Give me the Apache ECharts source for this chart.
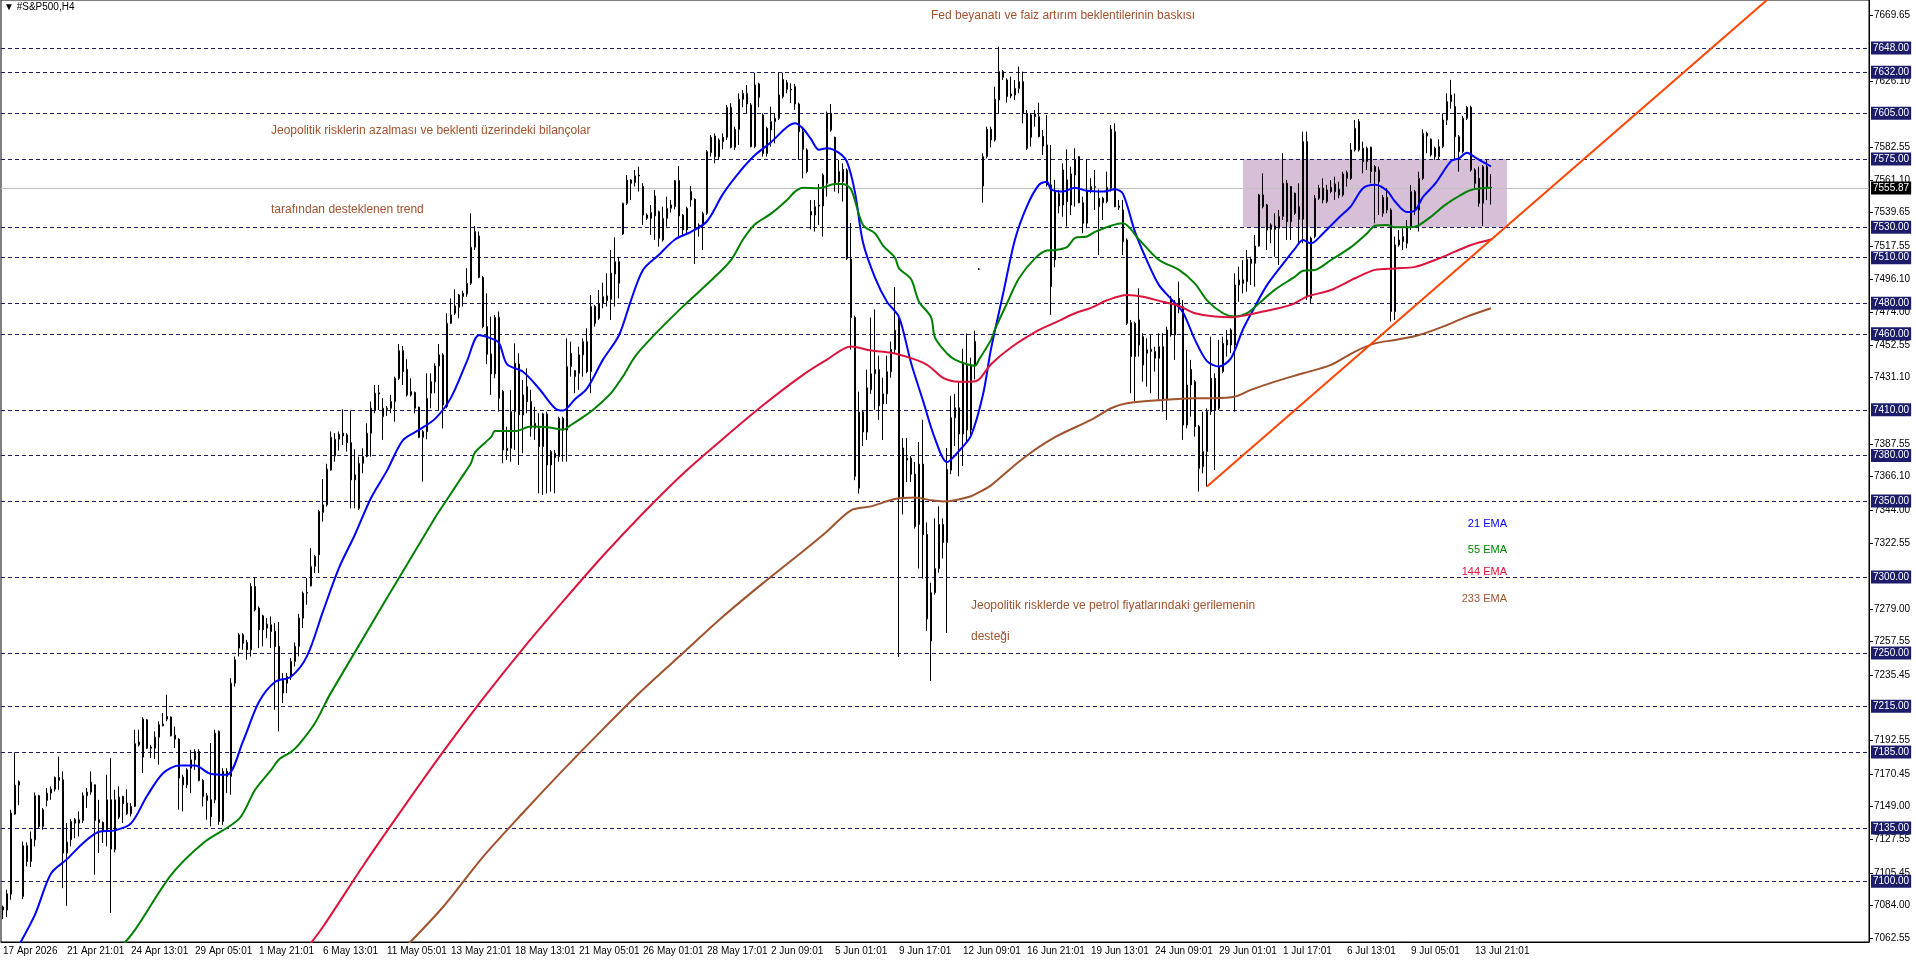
<!DOCTYPE html>
<html>
<head>
<meta charset="utf-8">
<title>#S&amp;P500,H4</title>
<script src="https://cdn.jsdelivr.net/npm/echarts@6/dist/echarts.min.js"></script>
<style>
  html, body { margin: 0; padding: 0; background: #fff; }
  #chart { width: 1916px; height: 963px; }
</style>
</head>
<body>
<div id="chart"></div>
<script>
// time labels under the x axis, one every 16 bars
const timeLabels = ['17 Apr 2026', '21 Apr 21:01', '24 Apr 13:01', '29 Apr 05:01', '1 May 21:01', '6 May 13:01',
  '11 May 05:01', '13 May 21:01', '18 May 13:01', '21 May 05:01', '26 May 01:01', '28 May 17:01', '2 Jun 09:01',
  '5 Jun 01:01', '9 Jun 17:01', '12 Jun 09:01', '16 Jun 21:01', '19 Jun 13:01', '24 Jun 09:01', '29 Jun 01:01',
  '1 Jul 17:01', '6 Jul 13:01', '9 Jul 05:01', '13 Jul 21:01'];
const labelStep = 16;
const slotCount = 467; // bars + empty space on the right (chart shift)

// price scale labels on the right
const priceTicks = [7669.65, 7626.10, 7582.55, 7561.10, 7539.65, 7517.55, 7496.10, 7474.00, 7452.55, 7431.10,
  7387.55, 7366.10, 7344.00, 7322.55, 7279.00, 7257.55, 7235.45, 7192.55, 7170.45, 7149.00, 7127.55, 7105.45,
  7084.00, 7062.55];

// horizontal levels
const levels = [7648, 7632, 7605, 7575, 7530, 7510, 7480, 7460, 7410, 7380, 7350, 7300, 7250, 7215, 7185, 7135, 7100];
const lastPrice = 7555.87;

// H4 candles
const opens = [
  7083,7081,7091.5,7144.1,7163.2,7090,7123.3,7113,7127.2,7156.2,
  7136,7153.1,7157.9,7160.5,7168.2,7166.7,7118.5,7127.2,7140.4,7138.2,
  7139.9,7156.2,7158.6,7163.4,7140.4,7138.6,7133.8,7153.5,7120.7,7142.1,
  7155.7,7151.3,7144.3,7149.2,7189.7,7181.6,7206.1,7188.2,7187.5,7194.7,
  7202.2,7206.6,7207.9,7196,7193.4,7168.4,7163.4,7174.3,7179.8,7185.3,
  7166.2,7156.2,7153.5,7153.5,7198.5,7139.3,7172.2,7168.9,7230.2,7253.3,
  7262,7257,7252.2,7293.8,7279.6,7274.5,7266.4,7268.6,7264.2,7254.4,
  7232.4,7230.2,7234.6,7244.5,7254.4,7273,7289.4,7294.2,7307,7314.6,
  7342.5,7347.5,7370.4,7379.7,7390.6,7394.6,7393.5,7388.4,7363.9,7345.2,
  7374.8,7379.2,7394.6,7409.9,7420.4,7405.5,7410.3,7411,7415.4,7430.7,
  7448.9,7436.6,7419.8,7421.3,7411.7,7391.9,7395.7,7420.9,7428.5,7438.8,
  7446.1,7412.1,7466.9,7473.5,7477.4,7484.4,7486.2,7493.2,7516.9,7524.3,
  7497.1,7464.7,7446.7,7433.6,7470.8,7422,7383.2,7384.7,7408.8,7440.1,
  7406.6,7425.2,7415.4,7397.9,7397.8,7385.8,7407.3,7373.7,7381.4,7379.2,
  7404.4,7396.7,7438.4,7431.8,7434,7446.1,7454.8,7435.1,7477.9,7470.2,
  7480,7481.8,7482.7,7499.3,7507.4,7525.6,7545.8,7561.1,7559.4,7563.8,
  7556.8,7538.1,7535.9,7537.5,7540.3,7521.7,7535.9,7542.5,7543.6,7560.7,
  7538.1,7528.3,7553.5,7548.4,7529.4,7531.5,7539.2,7579.1,7590,7587.4,
  7586.3,7589.2,7608.9,7582.6,7594.4,7614.2,7611.1,7610.5,7583.1,7624.3,
  7603.9,7595.1,7594,7599.5,7601.7,7615.9,7625.1,7620.8,7622.5,7611.1,
  7592.9,7580.9,7540.3,7538.1,7544,7544,7558.9,7605,7589.2,7566.6,
  7560,7567.7,7509.1,7470.7,7358.4,7408.6,7395.4,7423.2,7433.7,7436.4,
  7413.9,7420.5,7435,7449.6,7470.7,7351.8,7376.9,7378.2,7367.6,7334.6,
  7374.3,7328,7258,7289.7,7305.6,7334.6,7322.7,7370.3,7404.7,7411.3,
  7394.1,7439,7396.7,7439,7502.5,7557.2,7576.5,7594.5,7587.5,7613.8,
  7632.4,7626.9,7616.4,7617,7621.4,7625.8,7605,7589.2,7604.6,7602.8,
  7589.7,7584.2,7557.9,7508.6,7552,7544.7,7561.2,7544.7,7564.4,7576.5,
  7546.2,7532.7,7554.6,7556.3,7543.6,7549.1,7546.9,7555.7,7592.9,7544,
  7541.4,7521.7,7445,7466.9,7469.1,7458.1,7447.2,7448.3,7448.3,7443.9,
  7451.5,7416.5,7459.2,7459.2,7483.3,7477.8,7400,7426.3,7428.5,7398.9,
  7372.6,7382.5,7408.8,7430.7,7411,7435.1,7452.6,7452.6,7452.6,7492.1,
  7495.4,7494.3,7509,7506.3,7517.7,7551.3,7544.7,7531.5,7530.9,7529.4,
  7537.1,7559,7533.7,7552.4,7543.6,7535.3,7586.4,7522.8,7523.9,7549.1,
  7555.7,7546.9,7556.3,7558.5,7555,7551.3,7562.2,7562.2,7580.9,7599.5,
  7582,7573.2,7582.6,7569.9,7567.7,7539.2,7549.7,7541.4,7518.4,7518.4,
  7520.6,7519.5,7530.5,7541.4,7541.4,7562.2,7591.8,7587.9,7582,7576.5,
  7583.1,7600.6,7612.7,7609.4,7589.6,7579.8,7601.7,7608.9,7567.7,7562.2,
  7545.8,7569.9,7556.3
];
const highs = [
  7084,7094.4,7147,7184.7,7166.3,7126.1,7125.5,7132.7,7158.4,7156.8,
  7148.1,7161.2,7162.3,7168.9,7182,7172.2,7138.2,7140.8,7141.5,7145.9,
  7158.4,7161.2,7172.2,7163.4,7153.5,7139.3,7170,7180.9,7160.1,7162.3,
  7156.2,7160.5,7151.3,7199.6,7199.6,7207.9,7206.6,7189.7,7198.5,7205.1,
  7210.5,7222.6,7208.3,7201.7,7194,7170,7174.3,7186.4,7186.8,7186.8,
  7167.1,7157.9,7190.8,7199.6,7199.1,7174.3,7174.3,7233.5,7247.8,7263.1,
  7263.1,7258.7,7296,7300,7280.7,7275.2,7273,7274.1,7269.7,7270.4,
  7236.8,7236.8,7246.7,7257,7275.8,7290.5,7299.3,7319,7314.6,7344.2,
  7364.4,7374.5,7395.7,7394.6,7395.7,7410.3,7394.6,7409.5,7384,7379.2,
  7384.7,7401.1,7415.4,7426.3,7426.3,7417.6,7412.5,7419.8,7431.8,7453.3,
  7452,7443.2,7430.7,7422,7412.1,7396.8,7434,7434,7440.6,7453.3,
  7447.2,7473.5,7483.3,7489.3,7486.2,7488.4,7503.1,7539.2,7530.9,7527.2,
  7498,7486.6,7471.3,7472.4,7474.6,7423.1,7398.9,7423.1,7453.7,7447.2,
  7429.6,7437.3,7423.1,7412,7407.7,7408.1,7408.8,7383.6,7383.6,7405.5,
  7405.5,7457,7454.8,7436.2,7451.5,7457,7463.6,7485.5,7479,7488.8,
  7493.6,7499.8,7515.1,7523.4,7510.3,7546.2,7564.4,7561.6,7567.7,7569.9,
  7559,7539.2,7544.7,7554.6,7541,7543.6,7550.2,7548,7561.1,7570.3,
  7538.8,7543.6,7557.2,7549.1,7532.6,7540.3,7580.9,7590.7,7591.8,7588.5,
  7591.8,7610.5,7611.6,7596.2,7618.1,7620.3,7623.6,7611.6,7631.7,7625.1,
  7605,7596.2,7609.4,7605,7631.7,7631.7,7626.9,7624.7,7624.3,7612,
  7596.2,7582,7548,7548,7558.5,7565.5,7606.1,7611.1,7589.6,7574.3,
  7572.1,7568.8,7532.9,7472,7421.9,7409.9,7436.4,7470.7,7476,7445.6,
  7431.1,7445.6,7454.9,7490.6,7472,7391.4,7391.4,7379.6,7375.6,7388.8,
  7403.4,7335.9,7296.3,7338.6,7346.5,7338.6,7384.9,7419.2,7420.5,7428.4,
  7450.1,7460.2,7444.3,7462,7503,7578.7,7596.2,7596.2,7622.5,7648.8,
  7633.5,7628,7629.1,7626.9,7635.7,7632.4,7607.2,7605,7607.2,7612,
  7594,7603.9,7584.2,7561.2,7554.6,7572.1,7581.3,7569.9,7582,7576.9,
  7550.2,7574.7,7562.3,7567.7,7555,7550.2,7566.6,7597.3,7598.4,7548,
  7548,7522.8,7469.1,7468,7489.9,7460.3,7457,7459.2,7451.5,7460.3,
  7460.3,7464.7,7484.9,7482.2,7494.3,7482.2,7449.4,7442.8,7429.6,7400,
  7408.8,7411,7458.1,7434,7456,7458.1,7462.5,7463.6,7499.8,7504.1,
  7508.5,7515.1,7510.7,7525,7551.9,7565.5,7545.4,7532.6,7539.2,7541.4,
  7578.7,7561.1,7557.2,7552.8,7558.9,7592.9,7592.9,7523.9,7551.3,7557.9,
  7562.2,7557.9,7561.1,7563.3,7560,7566.6,7567.3,7585.3,7600.6,7601.1,
  7586.4,7583.1,7583.1,7571,7569.9,7551.3,7555.7,7542.5,7523.9,7528.2,
  7529.4,7534.8,7557.9,7554.6,7566.6,7594.5,7592.9,7588.5,7583.1,7587.9,
  7605,7618.1,7627,7618,7590.7,7603.2,7609.8,7610,7568.8,7569.9,
  7571,7574.3,7565
];
const lows = [
  7075,7076.4,7087.8,7143.7,7150,7088.2,7109.7,7109.3,7122.9,7134.9,
  7133.8,7149.2,7153.5,7159,7160.1,7095.4,7083.8,7122.9,7128.3,7129.4,
  7138.2,7148.1,7156.8,7104.2,7118.5,7125.1,7122.9,7079,7118.9,7140.8,
  7138.2,7143.7,7142.6,7148.7,7188.6,7171.1,7186.9,7181,7180.3,7176.6,
  7201.8,7205.1,7195.2,7187.5,7147,7145.9,7161.2,7157.9,7173.2,7165.6,
  7149.1,7140.4,7136,7151.3,7137.1,7137.1,7157.9,7156.8,7228,7247.8,
  7252.2,7245.6,7247.8,7277.4,7253.3,7254.4,7259.8,7253.3,7212.7,7198.5,
  7217.1,7223.7,7232.4,7241.2,7247.8,7266.4,7281.7,7293.8,7302.6,7302.6,
  7336.5,7346.4,7370,7375.9,7383.2,7386.9,7382.5,7345.2,7345.2,7344.1,
  7368.3,7378.8,7379.2,7407.7,7409.9,7390.2,7406,7407.7,7402.2,7429.6,
  7426.3,7418.7,7418.7,7407.7,7391.3,7362.8,7390.6,7411,7420.9,7409.9,
  7397.8,7411,7466.5,7472.4,7470.2,7477.9,7484.4,7492.1,7515.1,7496.5,
  7463.6,7440,7419.8,7430.7,7408.8,7374.8,7377,7375.9,7383.6,7373.7,
  7381.4,7407.7,7392.4,7390.2,7355.1,7354,7355.1,7356.2,7355.1,7375.9,
  7375.9,7375.9,7431.8,7420.9,7423.1,7431.8,7434,7420.9,7464.7,7469.1,
  7476.8,7477.9,7469.1,7477.9,7483.3,7525,7544.7,7548,7556.8,7553.5,
  7531.6,7534.8,7525,7521.7,7517.3,7520.6,7530.5,7539.6,7541.8,7523.9,
  7525,7526.1,7543.6,7505.9,7523.9,7515.1,7538.1,7576.5,7572.1,7574.3,
  7581.3,7587.4,7581.9,7580.9,7584.2,7609,7605,7582.6,7582,7609,
  7576.5,7576.5,7583,7585.2,7600.6,7614.8,7618.1,7611.6,7607.2,7574.3,
  7562.2,7565.5,7528.7,7527.2,7531.5,7523.9,7550.2,7592.9,7553.5,7552.4,
  7546.9,7508.5,7449.6,7363.7,7355,7386.2,7390.1,7420.5,7410,7403.4,
  7390.1,7413.9,7431.1,7447,7247.4,7341.2,7362.4,7362.4,7331.9,7305.6,
  7299,7264.6,7231.6,7288.4,7302.9,7312.2,7263.3,7367.6,7386.2,7366.3,
  7373,7388.8,7392.8,7430,7502,7546.2,7575.4,7582.6,7586.4,7605,
  7626.9,7612,7614.9,7613.8,7618.2,7598.4,7580.9,7583.1,7596.2,7589.2,
  7577.6,7556.8,7472.4,7503.7,7539.2,7537,7530.5,7538.1,7543.6,7545.8,
  7526.1,7529.4,7552.4,7541.4,7511.8,7534.9,7545.8,7553.5,7543.2,7541.4,
  7511.8,7465.8,7420.9,7415.4,7445,7428.5,7425.2,7420.9,7435.1,7416.5,
  7408.8,7403.3,7458.1,7442.8,7473.5,7390.2,7397.8,7405.5,7392.4,7356.2,
  7368.2,7359.5,7406.6,7370.4,7409.9,7434,7445,7447.2,7408.8,7481.1,
  7486.6,7487.7,7492.1,7491,7517.3,7542.5,7515.1,7519.5,7510.7,7505.2,
  7534.8,7521.7,7521.7,7538.1,7519.5,7519.5,7482.2,7480,7522.8,7548,
  7545.8,7545.8,7552.4,7548,7549.1,7550.2,7556.8,7561.1,7579.8,7579.8,
  7565.5,7567.7,7558.9,7532.6,7538.1,7537,7539.2,7468,7469.1,7517.3,
  7515.1,7516.2,7528.2,7538.1,7527.2,7561.1,7578.7,7576.5,7574.3,7574.3,
  7582,7597.3,7608,7574.3,7566.6,7578.7,7600.6,7566.6,7555.7,7543.6,
  7530.9,7548,7545
];
const closes = [
  7081,7091.7,7144.8,7163.2,7165.4,7123.3,7113,7127.7,7156.2,7136,
  7147,7157.9,7160.5,7168.2,7166.3,7118.5,7125.7,7139.3,7138.2,7140.4,
  7156.2,7158.6,7165.2,7139.9,7138.6,7133.4,7153.5,7121.1,7153.5,7155.3,
  7150.9,7144.3,7149.2,7190.4,7191.5,7206.6,7187.5,7187.5,7194.7,7202.9,
  7203.3,7208.3,7195.6,7193.4,7167.8,7163.4,7173.2,7179.8,7185.3,7166.2,
  7155.7,7153.1,7142.5,7197.3,7139.3,7172.2,7168.9,7230.2,7245.6,7262,
  7256.5,7252.2,7293.8,7278.5,7265.3,7265.3,7269,7264.2,7254.4,7232.4,
  7223.7,7234.6,7244.5,7254.4,7273,7289.4,7289.9,7307,7313.5,7343.1,
  7347.5,7371,7391.9,7390.6,7393.9,7392.8,7388.4,7363.9,7367.2,7374.8,
  7379.2,7394.6,7411,7420.9,7421.3,7411,7411,7415.4,7430.7,7448.9,
  7435.1,7419.8,7422,7411,7391.9,7395.7,7417.6,7428.5,7438.8,7446.1,
  7413.2,7466.9,7472.4,7478.3,7485.5,7486.6,7493.2,7516.9,7527.2,7497.1,
  7464.7,7446.5,7433.6,7470.8,7417.6,7383.6,7384.7,7408.8,7440.6,7406.6,
  7419.8,7415.4,7397.9,7401.1,7385.8,7407.3,7373.7,7382.5,7378.6,7404.4,
  7396.7,7438.4,7447.2,7435.8,7446.1,7454.8,7435.1,7477.9,7466.9,7480,
  7484.4,7484.9,7499.8,7507.4,7493.2,7545.8,7561.1,7559,7563.8,7564.4,
  7538.1,7536,7539.7,7550.6,7522.8,7535.9,7542.5,7544.7,7560.7,7537.5,
  7528.3,7542.5,7548,7528.3,7531.5,7539.2,7579.8,7589.2,7576.5,7576.5,
  7589.2,7608.9,7582.6,7594.4,7614.2,7618.1,7618.1,7583.1,7623.6,7615.5,
  7578.6,7578.6,7599.5,7601.7,7617,7627.3,7620.8,7620.3,7611.1,7592.9,
  7581.3,7566.6,7538.1,7543.6,7544.7,7564.4,7605,7594,7558.9,7560,
  7568.1,7509.6,7470.7,7366.3,7408.6,7395.4,7424.5,7433.7,7436.4,7412.6,
  7420.5,7435,7449.6,7462.3,7351.8,7384.9,7378.2,7367.6,7333.3,7374.3,
  7328,7272.5,7289.7,7305.6,7334.6,7322.7,7370.8,7404.7,7411.3,7394.1,
  7440.3,7396.7,7439,7455,7502.5,7576.5,7594.5,7587.5,7614.2,7632.4,
  7628.7,7616,7617.7,7621.4,7625.8,7605,7582,7603.9,7602.8,7589.7,
  7583.5,7557.9,7491,7553.5,7544.1,7567.7,7546.9,7565.1,7574.7,7546.2,
  7532.7,7554.1,7556.8,7556.8,7549.1,7546.2,7556.3,7594.5,7543.6,7543.2,
  7520.6,7466.9,7467.3,7445,7452.6,7439.5,7449.4,7449.8,7443.9,7451.5,
  7416.5,7462.5,7482.2,7480,7477.8,7400,7426.3,7436.6,7398.9,7371.5,
  7382.5,7408.8,7430.7,7409.9,7438.4,7453.7,7455.9,7462.5,7492.1,7495.4,
  7493.2,7509,7506.3,7517.7,7551.3,7543.6,7528.2,7528.7,7528.7,7537.1,
  7559,7533.7,7556.8,7539.2,7535.3,7586.4,7484.4,7483.3,7549.1,7555.7,
  7548,7554.6,7553.5,7553.5,7551.3,7565.1,7566,7580.9,7595.1,7580.9,
  7573.2,7582,7566.6,7566.6,7560.1,7549.7,7541.4,7474.6,7474.6,7521.7,
  7523.9,7530.5,7553.5,7553.5,7562.2,7591.8,7590.1,7577.6,7576.5,7583.1,
  7600.6,7612.7,7617,7589.6,7579.8,7601.7,7608.9,7567.7,7558.9,7545.8,
  7569.9,7556.3,7555.87
];

// moving averages as [bar index, price]
const ema21 = [[4,7058],[8,7078],[12,7105],[16,7114.5],[20,7125],[24,7132.5],[28,7133.4],[32,7138],[36,7156],
  [40,7171],[44,7176],[48,7176],[52,7170.5],[56,7170],[60,7192],[64,7218],[68,7231],[72,7234.5],[76,7248],
  [80,7277.4],[84,7306],[88,7328],[92,7352],[96,7370],[100,7390],[104,7396.8],[108,7404],[112,7418],[116,7442],
  [119,7459],[122,7457],[124,7454],[126,7440],[130,7435],[134,7424],[138,7411],[140,7409.5],[143,7417],
  [146,7424],[150,7443],[154,7459],[157,7482],[160,7502],[164,7512],[168,7522],[172,7527],[176,7534],
  [180,7552],[184,7566],[188,7577.5],[192,7586],[196,7596],[198,7598.5],[200,7595],[202,7588],[204,7581],
  [206,7582],[209,7579],[211,7573],[213,7553],[215,7520],[218,7497],[221,7481],[224,7471],[227,7441],
  [230,7416],[233,7391],[236,7375.6],[239,7383],[242,7393],[245,7420],[247,7450],[250,7486],[253,7522],
  [256,7544],[259,7558],[261,7560],[262,7555],[265,7553.5],[268,7556],[271,7554],[275,7553.5],[278,7555],
  [280,7552],[283,7527],[286,7508],[289,7492],[292,7483],[295,7474],[298,7456],[301,7442],[304,7438.5],
  [307,7444],[310,7463],[313,7478],[316,7492],[320,7506],[323,7516],[325,7521.7],[327,7519.5],[330,7526],
  [334,7536.5],[337,7544],[340,7555.7],[343,7558],[346,7554],[348,7547],[351,7540],[353,7541],[355,7550],
  [358,7558.5],[362,7573.5],[364,7575.4],[366,7579],[368,7576],[372,7570]];
const ema55 = [[28,7052],[33,7068],[42,7104],[50,7125],[59,7141],[63,7160],[67,7173],[69,7180],[72,7185],
  [74,7190],[78,7204],[82,7224],[108,7339],[111,7351],[114,7363],[117,7375],[118,7382],[122,7392],[123,7396],
  [128,7396],[132,7399],[136,7398.5],[140,7397],[142,7400],[146,7407],[148,7411],[152,7421],[155,7432],
  [158,7445],[162,7457],[170,7478],[177,7495],[182,7508.5],[185,7522],[188,7532],[192,7539],[196,7548],
  [198,7553.5],[200,7556],[204,7555.7],[208,7558.5],[210,7558.5],[212,7555],[215,7531.5],[218,7526],
  [220,7518],[223,7510],[224,7503],[227,7496],[229,7481],[232,7471],[233,7457.5],[236,7447],[238,7443],
  [241,7440],[243,7439],[244,7443],[247,7456],[248,7463],[251,7480],[254,7496.5],[258,7509.6],[261,7514.7],
  [263,7515],[266,7517],[268,7523],[271,7524],[273,7527],[277,7531],[280,7532.6],[284,7522],[289,7508.5],
  [294,7502],[298,7493],[301,7482],[305,7473.5],[308,7471.3],[311,7473.5],[314,7480],[318,7489],[323,7497.6],
  [325,7501.5],[328,7502],[332,7508.5],[337,7517],[341,7526],[343,7531],[346,7531.5],[348,7530],[352,7530],
  [354,7531.5],[357,7537],[360,7543.6],[363,7549],[367,7554.6],[372,7556]];
const ema144 = [[76,7056],[80,7070],[90,7110],[100,7148],[110,7185],[120,7220],[130,7253],[140,7284],[150,7314],
  [160,7342],[170,7368],[180,7391],[190,7413],[200,7433],[206,7443],[212,7451.7],[217,7449],[222,7447.5],
  [227,7444],[230,7441],[232,7437.7],[235,7431],[239,7428.5],[242,7428.5],[244,7430],[247,7440],[252,7451],
  [259,7462.5],[263,7467.3],[268,7473.5],[272,7477],[276,7482],[281,7485.5],[285,7484.4],[290,7481],
  [294,7478.3],[298,7473.5],[303,7471.3],[307,7470.8],[311,7472.4],[315,7474.6],[322,7479],[326,7484.4],
  [332,7488.8],[338,7496.5],[343,7502],[348,7503],[353,7504],[358,7508.5],[363,7514],[367,7518.4],[372,7522]];
const ema233 = [[100,7055],[110,7083],[120,7116],[130,7145],[140,7173],[150,7200],[160,7226],[170,7250],
  [180,7274],[190,7296],[200,7317],[206,7330],[212,7343.9],[217,7346.5],[223,7351.3],[228,7352.3],[232,7350.5],
  [235,7349.7],[238,7350.5],[242,7353.1],[244,7355.8],[247,7360.3],[255,7378],[263,7392],[272,7403.3],
  [277,7411],[281,7414.3],[290,7416.5],[298,7417.6],[303,7417.6],[308,7418.7],[312,7423.1],[318,7428.5],
  [325,7434],[332,7439.5],[338,7448.3],[343,7453.7],[348,7455.9],[354,7459.2],[360,7464.7],[366,7471.3],
  [372,7476.8]];

// drawn objects: trend line ends and the box, as [bar index, price]
const trendLine = [[301, 7359.5], [441, 7679.5]];
const rangeBox = [[310, 7575], [376, 7530]];

// text notes: [bar index, price, text, colour, align, font size]
const notes = [
  [232, 7669, 'Fed beyanatı ve faiz artırım beklentilerinin baskısı', '#a0522d', 'left', 12],
  [67, 7593.4, 'Jeopolitik risklerin azalması ve beklenti üzerindeki bilançolar', '#a0522d', 'left', 12],
  [67, 7541.4, 'tarafından desteklenen trend', '#a0522d', 'left', 12],
  [242, 7281.1, 'Jeopolitik risklerde ve petrol fiyatlarındaki gerilemenin', '#a0522d', 'left', 12],
  [242, 7260.9, 'desteği', '#a0522d', 'left', 12],
  [376.25, 7334.9, '21 EMA', '#0000ff', 'right', 11],
  [376.25, 7318.0, '55 EMA', '#008000', 'right', 11],
  [376.25, 7303.1, '144 EMA', '#dc143c', 'right', 11],
  [376.25, 7285.8, '233 EMA', '#a0522d', 'right', 11]
];

const slots = [];
for (let i = 0; i < slotCount; i++) {
  const k = i / labelStep;
  slots.push(i % labelStep === 0 && k < timeLabels.length ? timeLabels[k] : '');
}
const candles = opens.map((o, i) => [o, closes[i], lows[i], highs[i]]);

const axisFont = 'Liberation Sans';

function emaSeries(name, data, color) {
  return {
    name: name, type: 'line', data: data, showSymbol: false, smooth: 0.3, clip: true, z: 4,
    lineStyle: { color: color, width: 2 }, silent: true
  };
}

const chart = echarts.init(document.getElementById('chart'));
chart.setOption({
  animation: false,
  backgroundColor: '#fff',
  grid: { left: 1, right: 47, top: 0, bottom: 21, show: true, borderColor: '#000', borderWidth: 1 },
  xAxis: {
    type: 'category', data: slots, boundaryGap: true,
    axisLine: { lineStyle: { color: '#000' } },
    axisTick: {
      alignWithLabel: true, length: 3, lineStyle: { color: '#000' },
      interval: (i) => i % labelStep === 0 && i / labelStep < timeLabels.length
    },
    axisLabel: { interval: 0, align: 'left', color: '#000', fontSize: 10, fontFamily: axisFont, margin: 4 },
    splitLine: { show: false }
  },
  yAxis: {
    type: 'value', position: 'right', min: 7060, max: 7679.5,
    axisLine: { show: true, lineStyle: { color: '#000' } },
    axisTick: { show: true, customValues: priceTicks, length: 4, lineStyle: { color: '#000' } },
    axisLabel: {
      customValues: priceTicks, formatter: (v) => v.toFixed(2),
      color: '#000', fontSize: 10, fontFamily: axisFont, margin: 5
    },
    splitLine: { show: false }
  },
  series: [
    {
      // levels + range box, kept under the candles
      type: 'line', data: [], silent: true, z: 1,
      markArea: {
        silent: true, z: 1,
        itemStyle: { color: '#d8bfd8' },
        data: [[{ coord: rangeBox[0] }, { coord: rangeBox[1] }]]
      },
      markLine: {
        silent: true, symbol: ['none', 'none'], z: 1,
        lineStyle: { color: '#1c1c6b', type: [4, 3], width: 1 },
        label: {
          position: 'end', distance: 2, formatter: (p) => p.value.toFixed(2),
          color: '#fff', backgroundColor: '#1c1c6b', padding: [2, 2, 1, 2],
          fontSize: 10, fontFamily: axisFont
        },
        data: levels.map((v) => ({ yAxis: v })).concat([{
          yAxis: lastPrice,
          lineStyle: { color: '#c0c0c0', type: 'solid', width: 1 },
          label: { backgroundColor: '#000', color: '#fff' }
        }])
      }
    },
    {
      type: 'candlestick', data: candles, barWidth: 2, z: 3, silent: true,
      itemStyle: { color: '#fff', color0: '#000', borderColor: '#000', borderColor0: '#000', borderWidth: 1 }
    },
    emaSeries('21 EMA', ema21, '#0000ff'),
    emaSeries('55 EMA', ema55, '#008000'),
    emaSeries('144 EMA', ema144, '#dc143c'),
    emaSeries('233 EMA', ema233, '#a0522d'),
    {
      type: 'line', data: [], silent: true, z: 5,
      markLine: {
        silent: true, symbol: ['none', 'none'], z: 5, label: { show: false },
        lineStyle: { color: '#ff4500', type: 'solid', width: 2 },
        data: [[{ coord: trendLine[0] }, { coord: trendLine[1] }]]
      }
    }
  ]
});

const graphics = [{
  type: 'text', left: 4, top: 2, silent: true,
  style: { text: '▼ #S&P500,H4', font: '10px "Liberation Sans", "DejaVu Sans"', fill: '#000' }
}];
notes.forEach((n) => {
  const p = chart.convertToPixel({ xAxisIndex: 0, yAxisIndex: 0 }, [n[0], n[1]]);
  graphics.push({
    type: 'text', x: p[0], y: p[1], silent: true, z: 10,
    style: { text: n[2], fill: n[3], font: n[5] + 'px "Liberation Sans"', align: n[4], verticalAlign: 'middle' }
  });
});
chart.setOption({ graphic: graphics });
</script>
</body>
</html>
